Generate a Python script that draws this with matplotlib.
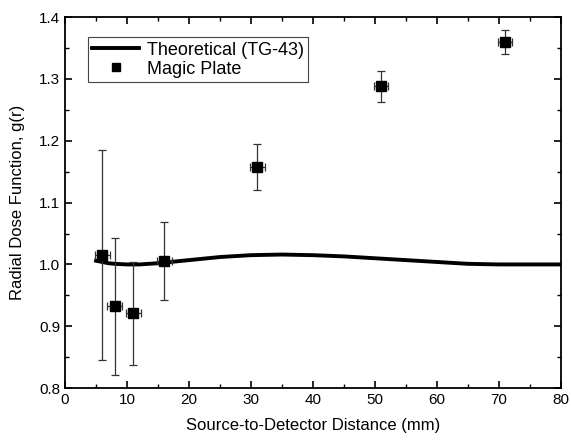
import matplotlib
matplotlib.use('Agg')
import matplotlib.pyplot as plt
from matplotlib.lines import Line2D
from matplotlib.ticker import MultipleLocator, FormatStrFormatter

plt.rcParams['font.family'] = ['Liberation Sans', 'DejaVu Sans']

# Theoretical TG-43 radial dose function
r_theory = [5, 6, 7, 8, 10, 12, 15, 20, 25, 30, 35, 40, 45, 50, 55, 60, 65, 70, 75, 80]
g_theory = [1.006, 1.004, 1.002, 1.001, 1.000, 1.000, 1.002, 1.007, 1.012, 1.015,
            1.016, 1.015, 1.013, 1.010, 1.007, 1.004, 1.001, 1.000, 1.000, 1.000]

# Magic Plate measurements
r_meas = [6, 8, 11, 16, 31, 51, 71]
g_meas = [1.015, 0.932, 0.921, 1.005, 1.158, 1.288, 1.360]
g_err = [0.17, 0.111, 0.083, 0.063, 0.037, 0.025, 0.019]
r_err = [1.2, 1.2, 1.2, 1.2, 1.2, 1.2, 1.2]

fig = plt.figure(figsize=(5.71, 4.40), dpi=100)
ax = fig.add_axes([0.114, 0.118, 0.868, 0.843])

ax.plot(r_theory, g_theory, color='black', lw=2.8)
ax.errorbar(r_meas, g_meas, yerr=g_err, xerr=r_err, fmt='s', color='black',
            ms=6.5, ecolor='#333333', elinewidth=0.9, capsize=3, capthick=0.9)

ax.set_xlim(0, 80)
ax.set_ylim(0.8, 1.4)
ax.xaxis.set_major_locator(MultipleLocator(10))
ax.xaxis.set_minor_locator(MultipleLocator(5))
ax.yaxis.set_major_locator(MultipleLocator(0.1))
ax.yaxis.set_minor_locator(MultipleLocator(0.05))
ax.yaxis.set_major_formatter(FormatStrFormatter('%.1f'))
ax.tick_params(which='both', direction='in', top=True, right=True, labelsize=11)
ax.tick_params(which='major', length=5, width=1.2)
ax.tick_params(which='minor', length=3, width=1.0)
for s in ax.spines.values():
    s.set_linewidth(1.3)

ax.set_xlabel('Source-to-Detector Distance (mm)', fontsize=12, labelpad=8)
ax.set_ylabel('Radial Dose Function, g(r)', fontsize=12, labelpad=10)

handles = [Line2D([], [], color='black', lw=2.8),
           Line2D([], [], color='black', marker='s', ms=6, ls='none')]
leg = ax.legend(handles, ['Theoretical (TG-43)', 'Magic Plate'],
                loc='upper left', bbox_to_anchor=(0.046, 0.946), borderaxespad=0,
                fontsize=13, fancybox=False, edgecolor='#444444', framealpha=1,
                handlelength=2.6, handletextpad=0.4, borderpad=0.25,
                labelspacing=0.1)
leg.get_frame().set_linewidth(0.8)

fig.savefig('out.png', dpi=100)
